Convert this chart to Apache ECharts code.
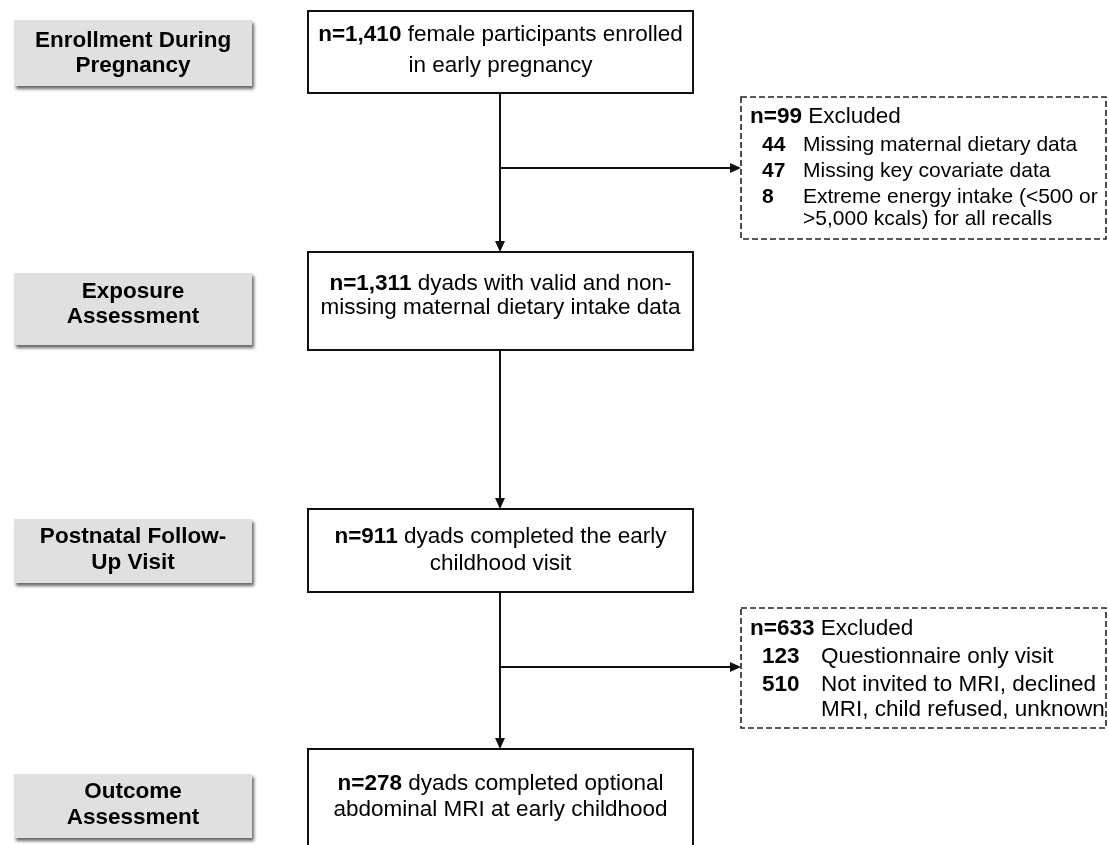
<!DOCTYPE html>
<html>
<head>
<meta charset="utf-8">
<script src="https://cdn.jsdelivr.net/npm/echarts@6/dist/echarts.min.js"></script>
<style>
html,body{margin:0;padding:0;background:#ffffff;}
#chart{width:1108px;height:845px;}
</style>
</head>
<body>
<div id="chart"></div>
<script>
// ---------- data ----------
const stageLabels = ['Enrollment During\nPregnancy', 'Exposure\nAssessment', 'Postnatal Follow-\nUp Visit', 'Outcome\nAssessment'];
const stageCounts = ['1,410', '1,311', '911', '278'];
const stageLine1 = ['female participants enrolled', 'dyads with valid and non-', 'dyads completed the early', 'dyads completed optional'];
const stageLine2 = ['in early pregnancy', 'missing maternal dietary intake data', 'childhood visit', 'abdominal MRI at early childhood'];
const excludedTotals = ['99', '633'];
const excl1Counts = ['44', '47', '8'];
const excl1Reasons = ['Missing maternal dietary data', 'Missing key covariate data', 'Extreme energy intake (<500 or\n>5,000 kcals) for all recalls'];
const excl2Counts = ['123', '510'];
const excl2Reasons = ['Questionnaire only visit', 'Not invited to MRI, declined\nMRI, child refused, unknown'];

// ---------- layout (pixel space of the hidden axes) ----------
const W = 1108, H = 845;
const FONT = '"Liberation Sans", Arial, Helvetica, sans-serif';
const FS = 22.5;
const L = {
  labelX: [14, 252],
  labelY: [[20, 86], [273, 345], [519, 583], [774, 838]],
  labelTextY: [[41, 66], [292, 317], [537, 563], [792, 818]],
  mainX: [308, 693],
  mainY: [[11, 93], [252, 350], [509, 592], [749, 890]],
  mainTextY: [[35, 66], [284, 308], [537, 564], [784, 810]],
  lineX: 500,
  branchY: [168, 667],
  branchAfterStage: [0, 2],
  exclX: [741, 1106],
  exclY: [[97, 239], [608, 728]],
  exclHeadX: 750,
  exclCountX: 762,
  exclReasonX: [803, 821],
  exclRowFS: [21, 22.5],
  exclRowY: [[117, 145, 171, 197, 219], [629, 657, 685, 710]]
};
const exclCounts = [excl1Counts, excl2Counts];
const exclReasons = [excl1Reasons, excl2Reasons];

const richStyles = {
  b: { fontWeight: 'bold', fontSize: FS, fontFamily: FONT, fill: '#000' },
  r: { fontWeight: 'normal', fontSize: FS, fontFamily: FONT, fill: '#000' }
};

function txt(p, text, align, opts) {
  return {
    type: 'text',
    x: p[0], y: p[1],
    style: Object.assign({
      text: text,
      fill: '#000',
      fontSize: FS,
      fontFamily: FONT,
      align: align,
      verticalAlign: 'middle',
      rich: richStyles
    }, opts || {})
  };
}

function rectShape(api, x0, y0, x1, y1) {
  const a = api.coord([x0, y0]);
  const b = api.coord([x1, y1]);
  return { x: a[0], y: a[1], width: b[0] - a[0], height: b[1] - a[1] };
}

// stage label boxes (grey, shadowed)
function renderLabel(params, api) {
  const i = params.dataIndex;
  const lines = stageLabels[i].split('\n');
  const cx = (L.labelX[0] + L.labelX[1]) / 2;
  const children = [{
    type: 'rect',
    shape: rectShape(api, L.labelX[0], L.labelY[i][0], L.labelX[1], L.labelY[i][1]),
    style: { fill: '#e0e0e0', shadowColor: 'rgba(0,0,0,0.6)', shadowBlur: 3, shadowOffsetX: 2, shadowOffsetY: 3 }
  }];
  lines.forEach(function (ln, k) {
    children.push(txt(api.coord([cx, L.labelTextY[i][k]]), ln, 'center', { fontWeight: 'bold' }));
  });
  return { type: 'group', children: children };
}

// main flow boxes
function renderMain(params, api) {
  const i = params.dataIndex;
  const cx = (L.mainX[0] + L.mainX[1]) / 2;
  const children = [{
    type: 'rect',
    shape: rectShape(api, L.mainX[0], L.mainY[i][0], L.mainX[1], L.mainY[i][1]),
    style: { fill: '#fff', stroke: '#111', lineWidth: 2 }
  }];
  children.push(txt(api.coord([cx, L.mainTextY[i][0]]), '{b|n=' + stageCounts[i] + '}{r| ' + stageLine1[i] + '}', 'center'));
  children.push(txt(api.coord([cx, L.mainTextY[i][1]]), stageLine2[i], 'center'));
  return { type: 'group', children: children };
}

// connectors between consecutive stages
function arrowDown(api, x, y1, y2) {
  const p1 = api.coord([x, y1]);
  const p2 = api.coord([x, y2]);
  return [
    { type: 'line', shape: { x1: p1[0], y1: p1[1], x2: p2[0], y2: p2[1] - 8 }, style: { stroke: '#111', lineWidth: 2 } },
    { type: 'polygon', shape: { points: [[p2[0] - 5, p2[1] - 11], [p2[0] + 5, p2[1] - 11], [p2[0], p2[1]]] }, style: { fill: '#111' } }
  ];
}
function arrowRight(api, x1, x2, y) {
  const p1 = api.coord([x1, y]);
  const p2 = api.coord([x2, y]);
  return [
    { type: 'line', shape: { x1: p1[0], y1: p1[1], x2: p2[0] - 8, y2: p2[1] }, style: { stroke: '#111', lineWidth: 2 } },
    { type: 'polygon', shape: { points: [[p2[0] - 11, p2[1] - 5], [p2[0] - 11, p2[1] + 5], [p2[0], p2[1]]] }, style: { fill: '#111' } }
  ];
}
function renderConnector(params, api) {
  const i = params.dataIndex;
  const children = arrowDown(api, L.lineX, L.mainY[i][1], L.mainY[i + 1][0]);
  const b = L.branchAfterStage.indexOf(i);
  if (b >= 0) {
    children.push.apply(children, arrowRight(api, L.lineX, L.exclX[0], L.branchY[b]));
  }
  return { type: 'group', children: children };
}

// exclusion boxes
function renderExcl(params, api) {
  const j = params.dataIndex;
  const rows = L.exclRowY[j];
  const fs = L.exclRowFS[j];
  const children = [{
    type: 'rect',
    shape: rectShape(api, L.exclX[0], L.exclY[j][0], L.exclX[1], L.exclY[j][1]),
    style: { fill: '#fff', stroke: '#222', lineWidth: 1.6, lineDash: [6, 3] }
  }];
  children.push(txt(api.coord([L.exclHeadX, rows[0]]), '{b|n=' + excludedTotals[j] + '}{r| Excluded}', 'left'));
  let r = 1;
  exclCounts[j].forEach(function (c, k) {
    children.push(txt(api.coord([L.exclCountX, rows[r]]), c, 'left', { fontWeight: 'bold', fontSize: fs }));
    exclReasons[j][k].split('\n').forEach(function (ln) {
      children.push(txt(api.coord([L.exclReasonX[j], rows[r]]), ln, 'left', { fontSize: fs }));
      r++;
    });
  });
  return { type: 'group', children: children };
}

const chart = echarts.init(document.getElementById('chart'), null, { renderer: 'canvas' });
chart.setOption({
  backgroundColor: '#ffffff',
  animation: false,
  grid: { left: 0, right: 0, top: 0, bottom: 0 },
  xAxis: { type: 'value', min: 0, max: W, show: false },
  yAxis: { type: 'value', min: 0, max: H, inverse: true, show: false },
  tooltip: { show: false },
  series: [
    { type: 'custom', name: 'connectors', renderItem: renderConnector, data: stageCounts.slice(1).map(function (c, i) { return [i]; }), silent: true, clip: false },
    { type: 'custom', name: 'stages', renderItem: renderLabel, data: stageLabels.map(function (s, i) { return [i]; }), silent: true, clip: false },
    { type: 'custom', name: 'main', renderItem: renderMain, data: stageCounts.map(function (c, i) { return [i]; }), silent: true, clip: false },
    { type: 'custom', name: 'excluded', renderItem: renderExcl, data: excludedTotals.map(function (c, i) { return [i]; }), silent: true, clip: false }
  ]
});
</script>
</body>
</html>
